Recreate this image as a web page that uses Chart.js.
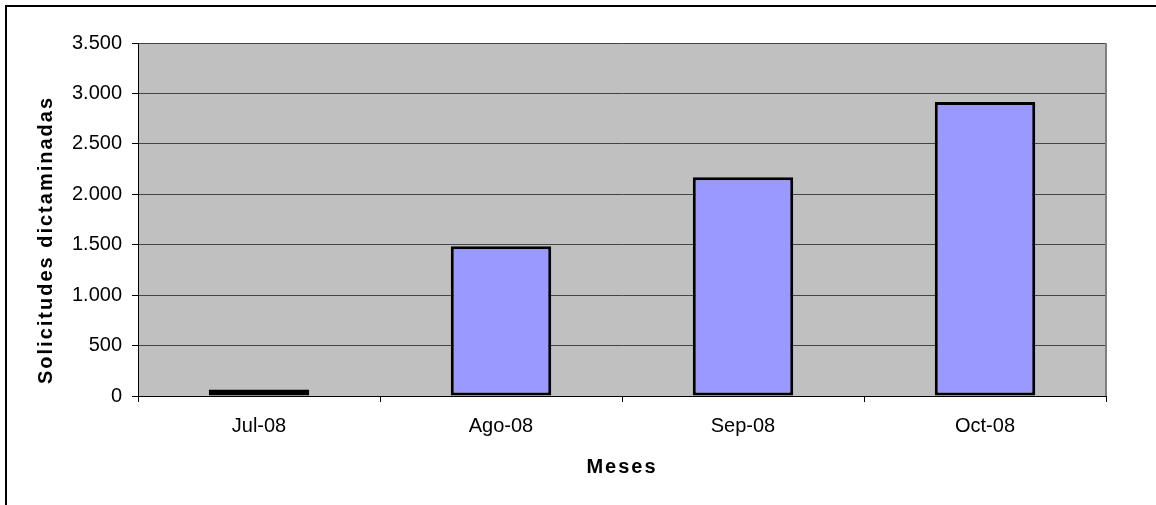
<!DOCTYPE html>
<html>
<head>
<meta charset="utf-8">
<script src="https://cdn.jsdelivr.net/npm/chart.js@4/dist/chart.umd.min.js"></script>
<style>
  html, body { margin: 0; padding: 0; background: #fff; }
  canvas { display: block; }
</style>
</head>
<body>
<canvas id="chart" width="1156" height="505"></canvas>
<script>
const months = ['Jul-08', 'Ago-08', 'Sep-08', 'Oct-08'];
const solicitudes = [65, 1485, 2170, 2915];
const yTicks = [0, 500, 1000, 1500, 2000, 2500, 3000, 3500];

const FONT = '"Liberation Sans", Arial, sans-serif';

function fmt(v) {
  return String(v).replace(/\B(?=(\d{3})+(?!\d))/g, '.');
}

// gray plot background, outer frame and the two axis titles (letter-spaced)
const decor = {
  id: 'decor',
  beforeDraw(chart) {
    const { ctx, chartArea: a } = chart;
    ctx.save();
    ctx.fillStyle = '#c0c0c0';
    ctx.fillRect(a.left, a.top, a.right - a.left, a.bottom - a.top);
    ctx.restore();
  },
  afterDraw(chart) {
    const { ctx, chartArea: a } = chart;
    ctx.save();
    // right edge of plot area
    ctx.strokeStyle = '#808080';
    ctx.lineWidth = 2;
    ctx.beginPath();
    ctx.moveTo(a.right, a.top);
    ctx.lineTo(a.right, a.bottom);
    ctx.stroke();
    // outer frame
    ctx.strokeStyle = '#000';
    ctx.lineWidth = 2;
    ctx.beginPath();
    ctx.moveTo(6, chart.height);
    ctx.lineTo(6, 6);
    ctx.lineTo(chart.width, 6);
    ctx.stroke();
    // titles
    ctx.fillStyle = '#000';
    ctx.font = 'bold 20px ' + FONT;
    ctx.letterSpacing = '2px';
    ctx.textAlign = 'center';
    ctx.textBaseline = 'middle';
    ctx.fillText('Meses', (a.left + a.right) / 2, 467);
    ctx.translate(46, 240);
    ctx.rotate(-Math.PI / 2);
    ctx.fillText('Solicitudes dictaminadas', 0, 0);
    ctx.restore();
  }
};

new Chart(document.getElementById('chart'), {
  type: 'bar',
  data: {
    labels: months,
    datasets: [{
      data: solicitudes,
      backgroundColor: '#9999ff',
      borderColor: '#000',
      borderWidth: 3,
      borderSkipped: false,
      barPercentage: 0.415,
      categoryPercentage: 1
    }]
  },
  options: {
    responsive: false,
    animation: false,
    layout: { padding: { top: 43, right: 50, left: 0, bottom: 0 } },
    plugins: {
      legend: { display: false },
      tooltip: { enabled: false }
    },
    scales: {
      x: {
        afterFit: s => { s.height = 109; },
        grid: {
          offset: true,
          drawOnChartArea: false,
          drawTicks: true,
          tickLength: 6,
          tickColor: '#000',
          lineWidth: 1
        },
        border: { display: true, color: '#000', width: 1 },
        ticks: {
          color: '#000',
          font: { family: FONT, size: 20 },
          padding: 12,
          maxRotation: 0
        }
      },
      y: {
        min: 0,
        max: 3500,
        afterFit: s => { s.width = 138; },
        afterBuildTicks: s => { s.ticks = yTicks.map(v => ({ value: v })); },
        grid: {
          color: '#444',
          lineWidth: 1,
          drawTicks: true,
          tickLength: 6,
          tickColor: '#000'
        },
        border: { display: true, color: '#000', width: 1 },
        ticks: {
          color: '#000',
          font: { family: FONT, size: 20 },
          padding: 10,
          callback: v => fmt(v)
        }
      }
    }
  },
  plugins: [decor]
});
</script>
</body>
</html>
